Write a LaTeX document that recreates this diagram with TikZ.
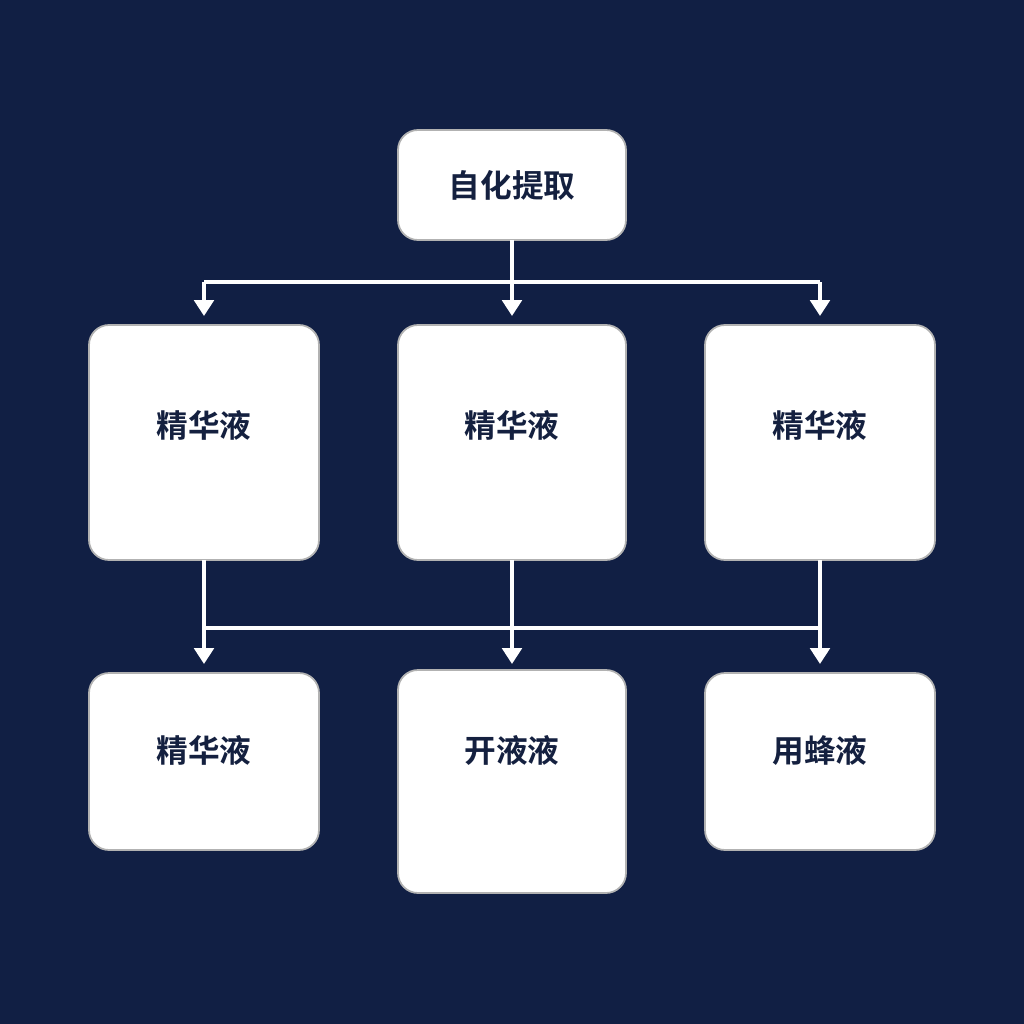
\documentclass[tikz,border=0pt]{standalone}
\usepackage{fontspec}
\newfontfamily\cjk{Noto Sans CJK SC}[BoldFont={Noto Sans CJK SC Bold}]
\usetikzlibrary{arrows.meta}
\definecolor{bg}{HTML}{111F44}
\definecolor{ink}{HTML}{14203F}
\begin{document}
\begin{tikzpicture}[x=0.01cm,y=-0.01cm,
  box/.style={draw=gray!60,line width=0.5pt,fill=white,rounded corners=0.2cm},
  lab/.style={font=\cjk\bfseries\fontsize{9}{10}\selectfont,text=ink},
  ln/.style={draw=white,line width=1.1pt},
  ar/.style={ln,-{Triangle[length=4.5pt,width=5.5pt]}}]
\fill[bg] (0,0) rectangle (1024,1024);
\useasboundingbox (0,0) rectangle (1024,1024);
\draw[box] (398,130) rectangle (626,240);
\node[lab] (top) at (512,185) {自化提取};
\draw[box] (89,325) rectangle (319,560);
\draw[box] (398,325) rectangle (626,560);
\draw[box] (705,325) rectangle (935,560);
\node[lab] (m1) at (204,425) {精华液};
\node[lab] (m2) at (512,425) {精华液};
\node[lab] (m3) at (820,425) {精华液};
\draw[box] (89,673) rectangle (319,850);
\draw[box] (398,670) rectangle (626,893);
\draw[box] (705,673) rectangle (935,850);
\node[lab] (b1) at (204,750) {精华液};
\node[lab] (b2) at (512,750) {开液液};
\node[lab] (b3) at (820,750) {用蜂液};
\coordinate (t0) at (512,240);
\coordinate (h1) at (204,282); \coordinate (h3) at (820,282);
\coordinate (a1) at (204,316); \coordinate (a2) at (512,316); \coordinate (a3) at (820,316);
\draw[ln] (t0) -- (512,282);
\draw[ln] (h1) -- (h3);
\draw[ar] (h1) -- (a1);
\draw[ar] (512,280) -- (a2);
\draw[ar] (h3) -- (a3);
\coordinate (c1) at (204,628); \coordinate (c3) at (820,628);
\draw[ln] (204,560) -- (c1);
\draw[ln] (512,560) -- (512,628);
\draw[ln] (820,560) -- (c3);
\draw[ln] (c1) -- (c3);
\draw[ar] (c1) -- (204,664);
\draw[ar] (512,628) -- (512,664);
\draw[ar] (c3) -- (820,664);
\end{tikzpicture}
\end{document}
